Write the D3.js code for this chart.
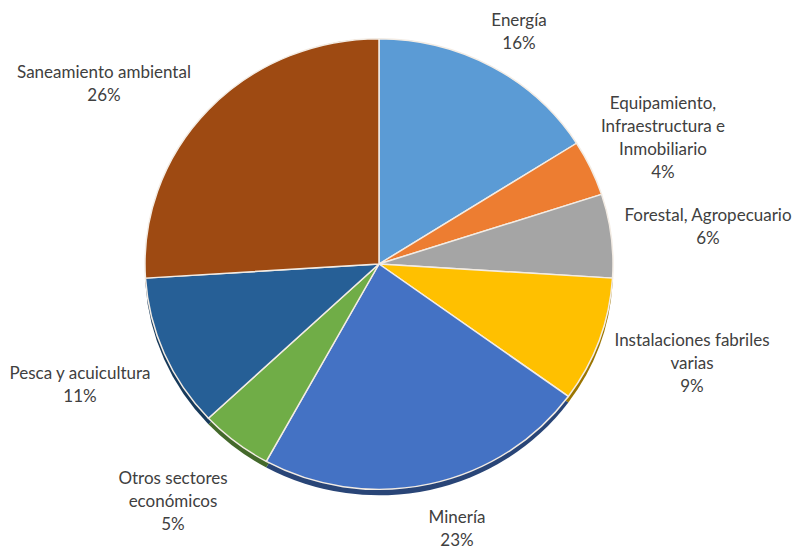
<!DOCTYPE html>
<html>
<head>
<meta charset="utf-8">
<script src="https://cdn.jsdelivr.net/npm/d3@7"></script>
<style>
    body { margin: 0; background: #ffffff; }
    .label { font-family: Lato, "Liberation Sans", sans-serif; font-size: 17px; fill: #404040; }
</style>
</head>
<body>
<script>

// data (percent of total, clockwise from 12 o'clock)
var sectors = ["Energía", "Equipamiento, Infraestructura e Inmobiliario", "Forestal, Agropecuario",
    "Instalaciones fabriles varias", "Minería", "Otros sectores económicos",
    "Pesca y acuicultura", "Saneamiento ambiental"];
var shares = [16, 4, 6, 9, 23, 5, 11, 26];
var labelLines = [
    ["Energía"],
    ["Equipamiento,", "Infraestructura e", "Inmobiliario"],
    ["Forestal, Agropecuario"],
    ["Instalaciones fabriles", "varias"],
    ["Minería"],
    ["Otros sectores", "económicos"],
    ["Pesca y acuicultura"],
    ["Saneamiento ambiental"]
];
var colours = ["#5b9bd5", "#ed7d31", "#a5a5a5", "#ffc000", "#4472c4", "#70ad47", "#265f96", "#9e4a12"];

var width = 800;
var height = 546;
var cx = 379;
var cy = 264;
var radius = 234;
var squash = 0.963; // pie is a little flattened in the original

// where each label block sits (top line baseline)
var labelPos = [
    [519, 26], [663, 109], [708, 221], [692, 346], [457, 523], [173, 484], [80, 379], [104, 78]
];

var svg = d3.select("body").append("svg")
    .attr("width", width)
    .attr("height", height);

var data = sectors.map((s, i) => ({ name: s, value: shares[i], colour: colours[i], lines: labelLines[i], pos: labelPos[i] }));

var pie = d3.pie()
    .sort(null)
    .value(e => e.value);

var arc = d3.arc()
    .innerRadius(0)
    .outerRadius(radius);

var arcs = pie(data);

// darker copy underneath gives the thin 3d rim at the bottom
svg.append("g")
    .attr("transform", `translate(${cx}, ${cy + 6}) scale(1, ${squash})`)
    .selectAll("path")
    .data(arcs)
    .enter()
    .append("path")
    .attr("d", arc)
    .style("fill", e => d3.color(e.data.colour).darker(1.4));

svg.append("g")
    .attr("transform", `translate(${cx}, ${cy}) scale(1, ${squash})`)
    .selectAll("path")
    .data(arcs)
    .enter()
    .append("path")
    .attr("d", arc)
    .style("fill", e => e.data.colour)
    .style("stroke", "#f3ece4")
    .style("stroke-width", 1.5)
    .style("stroke-linejoin", "round");

var lineHeight = 23;

var labels = svg.selectAll("text.label")
    .data(data)
    .enter()
    .append("text")
    .attr("class", "label")
    .attr("x", e => e.pos[0])
    .attr("y", e => e.pos[1])
    .style("text-anchor", "middle");

labels.each(function (e) {
    var t = d3.select(this);
    var rows = e.lines.concat([d3.format(".0f")(e.value) + "%"]);
    rows.forEach((r, i) => {
        t.append("tspan")
            .attr("x", e.pos[0])
            .attr("dy", i == 0 ? 0 : lineHeight)
            .text(r);
    });
});

</script>
</body>
</html>
